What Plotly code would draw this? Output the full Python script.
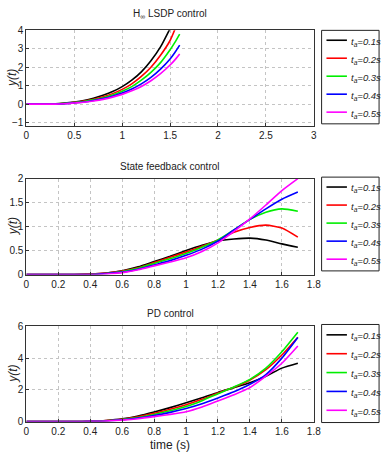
import plotly.graph_objects as go

# ---------------- data ----------------
labels = ["t<sub>a</sub>=0.1s", "t<sub>a</sub>=0.2s", "t<sub>a</sub>=0.3s",
          "t<sub>a</sub>=0.4s", "t<sub>a</sub>=0.5s"]
colors = ["#000000", "#ff0000", "#00ee00", "#0000ff", "#ff00ff"]

# H-infinity LSDP control
t1 = [0, 0.1, 0.2, 0.3, 0.4, 0.5, 0.6, 0.7, 0.8, 0.9, 1.0, 1.1, 1.2, 1.3, 1.4, 1.5, 1.55, 1.6]
h_black = [0, 0, 0, 0.02, 0.06, 0.12, 0.2, 0.32, 0.48, 0.68, 0.95, 1.3, 1.75, 2.35, 3.1, 4.1]
h_red = [0, 0, 0, 0.01, 0.05, 0.1, 0.17, 0.27, 0.4, 0.57, 0.8, 1.1, 1.5, 2.0, 2.65, 3.45, 4.05]
h_green = [0, 0, 0, 0.01, 0.04, 0.08, 0.14, 0.23, 0.35, 0.5, 0.7, 0.95, 1.3, 1.72, 2.25, 2.95, 3.35, 3.8]
h_blue = [0, 0, 0, 0.01, 0.03, 0.07, 0.12, 0.2, 0.3, 0.43, 0.6, 0.82, 1.1, 1.45, 1.9, 2.45, 2.8, 3.2]
h_magenta = [0, 0, 0, 0, 0.02, 0.06, 0.1, 0.17, 0.26, 0.38, 0.53, 0.72, 0.96, 1.27, 1.65, 2.12, 2.4, 2.72]

# State feedback control
t2 = [0, 0.1, 0.2, 0.3, 0.4, 0.5, 0.6, 0.7, 0.8, 0.9, 1.0, 1.1, 1.2, 1.3, 1.4, 1.5, 1.6, 1.7]
s_black = [0, 0, 0, 0, 0.01, 0.03, 0.08, 0.16, 0.27, 0.38, 0.5, 0.61, 0.7, 0.74, 0.76, 0.72, 0.64, 0.57]
s_red = [0, 0, 0, 0, 0.01, 0.03, 0.07, 0.14, 0.25, 0.36, 0.47, 0.59, 0.72, 0.88, 0.98, 1.03, 0.97, 0.78]
s_green = [0, 0, 0, 0, 0, 0.02, 0.06, 0.13, 0.23, 0.33, 0.44, 0.57, 0.72, 0.93, 1.15, 1.3, 1.37, 1.32]
s_blue = [0, 0, 0, 0, 0, 0.02, 0.05, 0.11, 0.2, 0.29, 0.4, 0.53, 0.7, 0.93, 1.15, 1.37, 1.57, 1.72]
s_magenta = [0, 0, 0, 0, 0, 0.01, 0.04, 0.1, 0.18, 0.26, 0.35, 0.48, 0.66, 0.9, 1.16, 1.45, 1.75, 2.0]

# PD control
t3 = t2
p_black = [0, 0, 0, 0, 0.02, 0.07, 0.17, 0.35, 0.6, 0.88, 1.18, 1.5, 1.84, 2.14, 2.45, 2.86, 3.37, 3.68]
p_red = [0, 0, 0, 0, 0.02, 0.06, 0.15, 0.3, 0.52, 0.78, 1.06, 1.4, 1.8, 2.16, 2.62, 3.27, 4.2, 5.32]
p_green = [0, 0, 0, 0, 0.01, 0.05, 0.13, 0.26, 0.45, 0.68, 0.95, 1.32, 1.75, 2.18, 2.66, 3.37, 4.4, 5.63]
p_blue = [0, 0, 0, 0, 0.01, 0.04, 0.11, 0.22, 0.38, 0.58, 0.82, 1.12, 1.49, 1.88, 2.35, 2.96, 4.0, 5.3]
p_magenta = [0, 0, 0, 0, 0.01, 0.03, 0.09, 0.18, 0.31, 0.45, 0.62, 0.92, 1.3, 1.69, 2.14, 2.86, 3.68, 4.77]

titles = ["H<sub>∞</sub> LSDP control", "State feedback control", "PD control"]
x_ticks1 = [0, 0.5, 1, 1.5, 2, 2.5, 3]
y_ticks1 = [-1, 0, 1, 2, 3, 4]
x_ticks23 = [0, 0.2, 0.4, 0.6, 0.8, 1, 1.2, 1.4, 1.6, 1.8]
y_ticks2 = [0, 0.5, 1, 1.5, 2]
y_ticks3 = [0, 2, 4, 6]

# ---------------- figure ----------------
W, H = 389, 460
FONT = "Liberation Sans, Arial, sans-serif"
TXT = "#222222"
fig = go.Figure()

panels = [
    (t1, [h_black, h_red, h_green, h_blue, h_magenta], "x", "y"),
    (t2, [s_black, s_red, s_green, s_blue, s_magenta], "x2", "y2"),
    (t3, [p_black, p_red, p_green, p_blue, p_magenta], "x3", "y3"),
]
for t, series, xa, ya in panels:
    for lab, col, ys in zip(labels, colors, series):
        fig.add_trace(go.Scatter(
            x=t[:len(ys)], y=ys, mode="lines", name=lab,
            line=dict(color=col, width=1.6, shape="spline", smoothing=0.6),
            xaxis=xa, yaxis=ya, showlegend=False, cliponaxis=True))

xdom = [24 / W, 319 / W]
ydoms = [[1 - 123.5 / H, 1 - 25 / H], [1 - 275.7 / H, 1 - 177.3 / H], [1 - 426.7 / H, 1 - 329 / H]]

axis_common = dict(showline=True, linecolor="#333333", linewidth=1, mirror=True,
                   showgrid=True, gridcolor="#c4c4c4", griddash="dot", gridwidth=1,
                   ticks="inside", ticklen=3, tickcolor="#333333",
                   tickfont=dict(family=FONT, size=10, color=TXT),
                   zeroline=False)

fig.update_layout(
    width=W, height=H, margin=dict(l=0, r=0, t=0, b=0),
    paper_bgcolor="white", plot_bgcolor="white",
    font=dict(family=FONT, size=10, color=TXT),
    showlegend=False,
    xaxis=dict(domain=xdom, range=[0, 3], tickvals=x_ticks1, anchor="y", **axis_common),
    yaxis=dict(domain=ydoms[0], range=[-1.2, 4], tickvals=y_ticks1, anchor="x", **axis_common),
    xaxis2=dict(domain=xdom, range=[0, 1.8], tickvals=x_ticks23, anchor="y2", **axis_common),
    yaxis2=dict(domain=ydoms[1], range=[0, 2], tickvals=y_ticks2, anchor="x2", **axis_common),
    xaxis3=dict(domain=xdom, range=[0, 1.8], tickvals=x_ticks23, anchor="y3", **axis_common),
    yaxis3=dict(domain=ydoms[2], range=[0, 6], tickvals=y_ticks3, anchor="x3", **axis_common),
)

ann = []
shapes = []
title_y = [8, 165, 316]
for tt, ty in zip(titles, title_y):
    ann.append(dict(text=tt, x=171.5 / W, y=1 - ty / H, xref="paper", yref="paper",
                    xanchor="center", yanchor="middle", showarrow=False,
                    font=dict(family=FONT, size=10, color=TXT)))
for d in ydoms:
    ann.append(dict(text="<i>y(t)</i>", x=10 / W, y=(d[0] + d[1]) / 2, xref="paper", yref="paper",
                    xanchor="center", yanchor="middle", textangle=-90, showarrow=False,
                    font=dict(family=FONT, size=12, color=TXT)))
ann.append(dict(text="time (s)", x=171.5 / W, y=1 - 451 / H, xref="paper", yref="paper",
                xanchor="center", yanchor="middle", showarrow=False,
                font=dict(family=FONT, size=12, color=TXT)))

# legend boxes (one per panel)
leg_boxes = [(25, 121), (175.7, 272), (327, 427.7)]
for top, bot in leg_boxes:
    shapes.append(dict(type="rect", xref="paper", yref="paper",
                       x0=327 / W, x1=386 / W, y0=1 - bot / H, y1=1 - top / H,
                       line=dict(color="#222222", width=1), fillcolor="white", layer="above"))
    step = (bot - top) / 5.2
    for i, (lab, col) in enumerate(zip(labels, colors)):
        yc = top + step * (0.55 + i)
        shapes.append(dict(type="line", xref="paper", yref="paper",
                           x0=332 / W, x1=353 / W, y0=1 - yc / H, y1=1 - yc / H,
                           line=dict(color=col, width=1.6), layer="above"))
        ann.append(dict(text="<i>" + lab + "</i>", x=355 / W, y=1 - (yc + 1.5) / H,
                        xref="paper", yref="paper", xanchor="left", yanchor="middle",
                        showarrow=False, font=dict(family=FONT, size=9.5, color=TXT)))

fig.update_layout(annotations=ann, shapes=shapes)
fig.write_html("out.html")
